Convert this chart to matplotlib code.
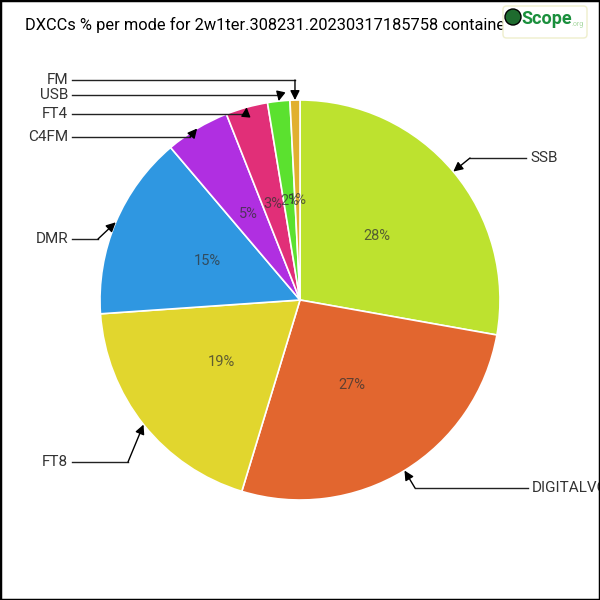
import matplotlib
matplotlib.use("Agg")
import matplotlib.pyplot as plt
import numpy as np
from matplotlib.patches import Rectangle, FancyBboxPatch, Circle

plt.rcParams['font.family'] = ['Roboto', 'DejaVu Sans']

# data (percent of DXCCs per mode)
modes = ['SSB', 'DIGITALVOICE', 'FT8', 'DMR', 'C4FM', 'FT4', 'USB', 'FM']
shares = [27.8, 26.9, 19.2, 14.9, 5.2, 3.4, 1.8, 0.8]
colors = ['#bde22f', '#e2662f', '#e1d62e', '#2f97e1', '#b02fe1', '#e12f78',
          '#5be12f', '#e1b02f']

# label placement: (text x, text y, elbow x, alignment)
label_pos = {
    'SSB': (1.15, 0.71, 0.85, 'left'),
    'DIGITALVOICE': (1.16, -0.94, 0.575, 'left'),
    'FT8': (-1.16, -0.81, -0.86, 'right'),
    'DMR': (-1.16, 0.305, -1.01, 'right'),
    'C4FM': (-1.16, 0.815, -0.55, 'right'),
    'FT4': (-1.16, 0.93, -0.27, 'right'),
    'USB': (-1.16, 1.025, -0.10, 'right'),
    'FM': (-1.16, 1.10, -0.02, 'right'),
}

fig = plt.figure(figsize=(6, 6), dpi=100)
ax = fig.add_axes([0, 0, 1, 1])

wedges, texts, autotexts = ax.pie(
    shares, colors=colors, startangle=90, counterclock=False,
    autopct='%.0f%%', pctdistance=0.5, radius=1.0,
    wedgeprops=dict(edgecolor='white', linewidth=1.2),
    textprops=dict(color='#333333', alpha=0.75, fontsize=10.5))

ax.set_xlim(-1.5, 1.5)
ax.set_ylim(-1.5, 1.5)
ax.set_aspect('equal')
ax.axis('off')

for w, name in zip(wedges, modes):
    ang = np.deg2rad((w.theta1 + w.theta2) / 2)
    tip = (np.cos(ang), np.sin(ang))
    tx, ty, ex, ha = label_pos[name]
    gap = 0.02 if ha == 'left' else -0.02
    start = tip[0] if name == 'FM' else ex
    ax.plot([tx - gap, start], [ty, ty], color='#222222', lw=1)
    ax.annotate('', xy=tip, xytext=(start, ty),
                arrowprops=dict(arrowstyle='-|>', color='black', lw=1,
                                mutation_scale=14, shrinkA=0, shrinkB=0))
    ax.text(tx, ty, name, ha=ha, va='center', fontsize=11, color='#333333')

fig.text(25 / 600, 1 - 25 / 600,
         'DXCCs % per mode for 2w1ter.308231.20230317185758 container',
         fontsize=11.8, color='black', va='center', ha='left', zorder=3)

# logo box
logo = FancyBboxPatch((503 / 600, 1 - 38 / 600), 84 / 600, 32 / 600,
                      boxstyle='round,pad=0,rounding_size=0.006',
                      transform=fig.transFigure, facecolor='white',
                      edgecolor='#eeeecc', lw=1, zorder=5)
fig.patches.append(logo)
fig.patches.append(Circle((513 / 600, 1 - 17 / 600), 8 / 600,
                          transform=fig.transFigure, facecolor='#1e6b2e',
                          edgecolor='black', lw=1, zorder=6))
fig.text(521 / 600, 1 - 19 / 600, 'Scope', color='#1a8f3c', fontsize=13,
         fontweight='bold', va='center', ha='left', zorder=7)
fig.text(571 / 600, 1 - 25 / 600, '.org', color='#a8d8a0', fontsize=5,
         va='center', ha='left', zorder=7)

fig.patches.append(Rectangle((0, 0), 1, 1, transform=fig.transFigure,
                             fill=False, edgecolor='black', lw=2.5, zorder=10))

fig.savefig('out.png', dpi=100)
